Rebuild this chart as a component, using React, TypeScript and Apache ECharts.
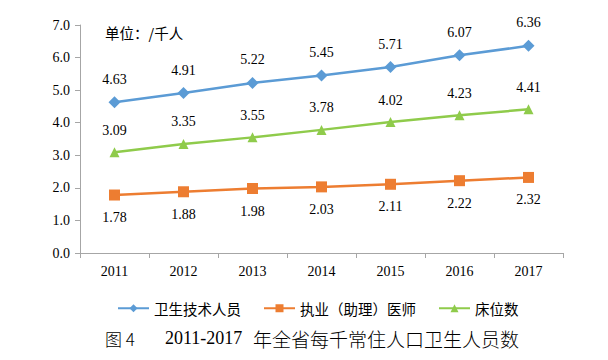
import React, { useEffect, useRef } from "react";
import * as echarts from "echarts";

const years = ["2011", "2012", "2013", "2014", "2015", "2016", "2017"];
const techStaff = [4.63, 4.91, 5.22, 5.45, 5.71, 6.07, 6.36];
const doctors = [1.78, 1.88, 1.98, 2.03, 2.11, 2.22, 2.32];
const beds = [3.09, 3.35, 3.55, 3.78, 4.02, 4.23, 4.41];
const seriesNames = ["卫生技术人员", "执业（助理）医师", "床位数"];
const unitText = "单位：/千人";
const captionFig = "图 4";
const captionYears = "2011-2017";
const captionTitle = "年全省每千常住人口卫生人员数";

const serif = "'Liberation Serif', 'Times New Roman', serif";
const cjk = "'Noto Sans CJK SC', sans-serif";

export default function App() {
  const ref = useRef<HTMLDivElement>(null);
  useEffect(() => {
    const chart = echarts.init(ref.current!, undefined, { renderer: "svg" });
    const label = (pos: string) => ({
      show: true,
      position: pos,
      distance: 10,
      fontFamily: serif,
      fontSize: 14,
      color: "#000",
      formatter: (p: any) => p.value.toFixed(2),
    });
    chart.setOption({
      animation: false,
      grid: { left: 80, right: 45, top: 25, bottom: 107 },
      xAxis: {
        type: "category",
        data: years,
        boundaryGap: true,
        axisLine: { lineStyle: { color: "#a6a6a6" } },
        axisTick: { show: true, alignWithLabel: false, length: 5, lineStyle: { color: "#a6a6a6" } },
        axisLabel: { fontFamily: serif, fontSize: 14, color: "#000", margin: 11 },
      },
      yAxis: {
        type: "value",
        min: 0,
        max: 7,
        interval: 1,
        splitLine: { show: false },
        axisLine: { show: true, lineStyle: { color: "#a6a6a6" } },
        axisTick: { show: true, length: 5, lineStyle: { color: "#a6a6a6" } },
        axisLabel: {
          fontFamily: serif,
          fontSize: 14,
          color: "#000",
          margin: 10,
          formatter: (v: number) => v.toFixed(1),
        },
      },
      legend: {
        top: 296,
        left: 112,
        itemWidth: 31,
        itemHeight: 10,
        itemGap: 22,
        textStyle: { fontFamily: cjk, fontSize: 14.5, color: "#000" },
        data: seriesNames,
      },
      graphic: [
        {
          type: "text",
          left: 105,
          top: 25,
          style: { text: unitText, fontFamily: cjk, fontSize: 14.5, fill: "#000" },
        },
        {
          type: "text",
          x: 105,
          y: 338,
          style: { text: captionFig, fontFamily: cjk, fontSize: 17, fontWeight: 300, fill: "#000", verticalAlign: "middle" },
        },
        {
          type: "text",
          x: 165,
          y: 338,
          style: { text: captionYears, fontFamily: serif, fontSize: 18, fill: "#000", verticalAlign: "middle" },
        },
        {
          type: "text",
          x: 253,
          y: 338,
          style: { text: captionTitle, fontFamily: cjk, fontSize: 19, fontWeight: 300, fill: "#000", verticalAlign: "middle" },
        },
      ],
      series: [
        {
          name: seriesNames[0],
          type: "line",
          data: techStaff,
          symbol: "diamond",
          symbolSize: 12,
          lineStyle: { width: 2.5, color: "#5B9BD5" },
          itemStyle: { color: "#5B9BD5" },
          label: label("top"),
        },
        {
          name: seriesNames[1],
          type: "line",
          data: doctors,
          symbol: "rect",
          symbolSize: 11,
          lineStyle: { width: 2.5, color: "#ED7D31" },
          itemStyle: { color: "#ED7D31" },
          label: label("bottom"),
        },
        {
          name: seriesNames[2],
          type: "line",
          data: beds,
          symbol: "triangle",
          symbolSize: 10,
          lineStyle: { width: 2.5, color: "#8FCB4B" },
          itemStyle: { color: "#8FCB4B" },
          label: label("top"),
        },
      ],
    });
    return () => chart.dispose();
  }, []);
  return <div ref={ref} style={{ width: 608, height: 360, position: "absolute", left: 0, top: 0 }} />;
}
